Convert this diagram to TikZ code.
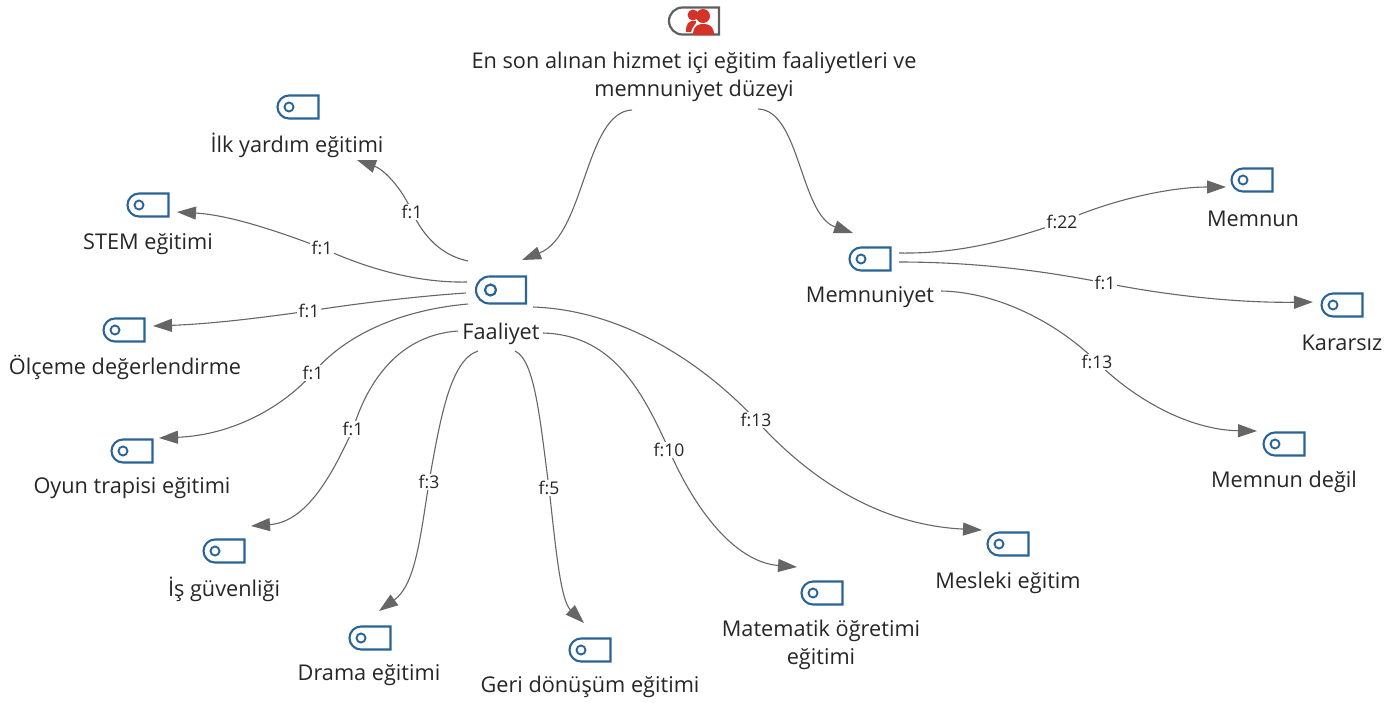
\documentclass[tikz,border=0pt]{standalone}
\usepackage{fontspec}
\setmainfont{Open Sans}
\usetikzlibrary{arrows.meta}
\usetikzlibrary{shapes.misc}
\usetikzlibrary{backgrounds}

\definecolor{iconblue}{HTML}{2A6496}
\definecolor{icongrey}{HTML}{5F5F5F}
\definecolor{personred}{HTML}{D5332A}
\definecolor{linegrey}{HTML}{666666}

\tikzset{
  tagicon/.style={rounded rectangle, rounded rectangle right arc=none, draw=iconblue, line width=2.1pt,
    minimum width=41pt, minimum height=23pt, inner sep=0pt,
    path picture={\draw[iconblue, line width=1.9pt] ([xshift=11.5pt]path picture bounding box.west) circle (4.5pt);}},
  bigicon/.style={tagicon, minimum width=50pt, minimum height=27pt,
    path picture={\draw[iconblue, line width=2.2pt] ([xshift=14.5pt]path picture bounding box.west) circle (5.5pt);}},
  nametext/.style={font=\fontsize{21.7}{28}\selectfont, text=black!85, align=center, inner sep=1pt},
  flabel/.style={font=\fontsize{17.5}{18}\selectfont, text=black!85, fill=white, inner sep=1.5pt},
  conn/.style={draw=linegrey, line width=1.1pt, -{Triangle[length=19pt,width=13pt]}}
}

\begin{document}
\begin{tikzpicture}[x=1pt,y=-1pt]
  \useasboundingbox (0,0) rectangle (1399,702);

  % top icon
  \node[rounded rectangle, rounded rectangle right arc=none, draw=icongrey, line width=2.2pt,
    minimum width=50pt, minimum height=27pt, inner sep=0pt] (topIcon) at (694,21) {};
  \fill[personred] (703,16) circle (7);
  \fill[personred] (693,35) .. controls (693,25) and (699,24) .. (703,24) .. controls (708,24) and (714,25) .. (714,35) -- cycle;
  \fill[personred] (693,15) circle (5.5);
  \fill[personred] (686,32) .. controls (686,24) and (688,20) .. (696,21) .. controls (697,24) and (692,26) .. (691,32) -- cycle;
  \node[nametext] (topText) at (694,77) {En son alınan hizmet içi eğitim faaliyetleri ve\\memnuniyet düzeyi};

  % icons
  \node[bigicon] (faaIcon) at (501,290) {};
  \node[tagicon] (ilkIcon) at (298,107) {};
  \node[tagicon] (stemIcon) at (148,205) {};
  \node[tagicon] (olcIcon) at (124,330) {};
  \node[tagicon] (oyunIcon) at (132,451) {};
  \node[tagicon] (isIcon) at (224,551) {};
  \node[tagicon] (dramaIcon) at (370,638) {};
  \node[tagicon] (geriIcon) at (590,650) {};
  \node[tagicon] (matIcon) at (822,593) {};
  \node[tagicon] (meslIcon) at (1008,544) {};
  \node[tagicon] (memIcon) at (870,259) {};
  \node[tagicon] (memnIcon) at (1252,180) {};
  \node[tagicon] (karIcon) at (1342,305) {};
  \node[tagicon] (degIcon) at (1284,444) {};

  % names
  \node[nametext] (faaText) at (501,334) {Faaliyet};
  \node[nametext] (ilkText) at (297,145) {İlk yardım eğitimi};
  \node[nametext] (stemText) at (148,244) {STEM eğitimi};
  \node[nametext] (olcText) at (125,367) {Ölçeme değerlendirme};
  \node[nametext] (oyunText) at (132,488) {Oyun trapisi eğitimi};
  \node[nametext] (isText) at (224,589) {İş güvenliği};
  \node[nametext] (dramaText) at (369,675) {Drama eğitimi};
  \node[nametext] (geriText) at (590,687) {Geri dönüşüm eğitimi};
  \node[nametext] (matText) at (821,645) {Matematik öğretimi\\eğitimi};
  \node[nametext] (meslText) at (1008,583) {Mesleki eğitim};
  \node[nametext] (memText) at (870,297) {Memnuniyet};
  \node[nametext] (memnText) at (1253,219) {Memnun};
  \node[nametext] (karText) at (1342,343) {Kararsız};
  \node[nametext] (degText) at (1284,482) {Memnun değil};

  % f labels
  \node[flabel] (ilkF) at (412,212) {f:1};
  \node[flabel] (stemF) at (322,248) {f:1};
  \node[flabel] (olcF) at (309,311) {f:1};
  \node[flabel] (oyunF) at (313,373) {f:1};
  \node[flabel] (isF) at (353,429) {f:1};
  \node[flabel] (dramaF) at (429,482) {f:3};
  \node[flabel] (geriF) at (549,488) {f:5};
  \node[flabel] (matF) at (669,450) {f:10};
  \node[flabel] (meslF) at (756,420) {f:13};
  \node[flabel] (memnF) at (1062,222) {f:22};
  \node[flabel] (karF) at (1105,283) {f:1};
  \node[flabel] (degF) at (1097,362) {f:13};

  \begin{scope}[on background layer]
    \draw[conn] ([shift={(-62,33)}]topText.center) .. controls (585,112) and (585,235) .. ([shift={(21,-30)}]faaIcon.center);
    \draw[conn] ([shift={(64,32)}]topText.center) .. controls (800,110) and (800,215) .. ([shift={(-17,-26)}]memIcon.center);

    \draw[conn] ([shift={(-33,-29)}]faaIcon.center) .. controls (440,255) and (423,235) .. (ilkF.center) .. controls (403,190) and (385,170) .. ([shift={(59,53)}]ilkIcon.center);
    \draw[conn] ([shift={(-34,-8)}]faaIcon.center) .. controls (420,283) and (370,270) .. (stemF.center) .. controls (280,232) and (230,215) .. ([shift={(29,7)}]stemIcon.center);
    \draw[conn] ([shift={(-35,3)}]faaIcon.center) .. controls (420,296) and (360,303) .. (olcF.center) .. controls (260,318) and (210,324) .. ([shift={(29,-4)}]olcIcon.center);
    \draw[conn] ([shift={(-33,14)}]faaIcon.center) .. controls (400,310) and (345,335) .. (oyunF.center) .. controls (285,405) and (235,435) .. ([shift={(27,-13)}]oyunIcon.center);
    \draw[conn] ([shift={(-43,41)}]faaIcon.center) .. controls (400,335) and (368,380) .. (isF.center) .. controls (330,480) and (305,522) .. ([shift={(27,-25)}]isIcon.center);
    \draw[conn] ([shift={(-23,61)}]faaIcon.center) .. controls (450,360) and (440,420) .. (dramaF.center) .. controls (420,540) and (415,585) .. ([shift={(9,-27)}]dramaIcon.center);
    \draw[conn] ([shift={(14,61)}]faaIcon.center) .. controls (535,360) and (540,420) .. (geriF.center) .. controls (555,540) and (560,600) .. ([shift={(-6,-27)}]geriIcon.center);
    \draw[conn] ([shift={(42,43)}]faaIcon.center) .. controls (610,335) and (640,385) .. (matF.center) .. controls (695,510) and (735,562) .. ([shift={(-25,-26)}]matIcon.center);
    \draw[conn] ([shift={(32,17)}]faaIcon.center) .. controls (620,310) and (700,360) .. (meslF.center) .. controls (810,480) and (880,525) .. ([shift={(-26,-14)}]meslIcon.center);

    \draw[conn] ([shift={(29,-6)}]memIcon.center) .. controls (960,254) and (1010,240) .. (memnF.center) .. controls (1110,200) and (1170,187) .. ([shift={(-26,7)}]memnIcon.center);
    \draw[conn] ([shift={(29,3)}]memIcon.center) .. controls (980,262) and (1050,272) .. (karF.center) .. controls (1170,296) and (1240,303) .. ([shift={(-29,-3)}]karIcon.center);
    \draw[conn] ([shift={(71,32)}]memIcon.center) .. controls (1000,292) and (1060,325) .. (degF.center) .. controls (1135,400) and (1190,430) .. ([shift={(-27,-13)}]degIcon.center);
  \end{scope}
\end{tikzpicture}
\end{document}
